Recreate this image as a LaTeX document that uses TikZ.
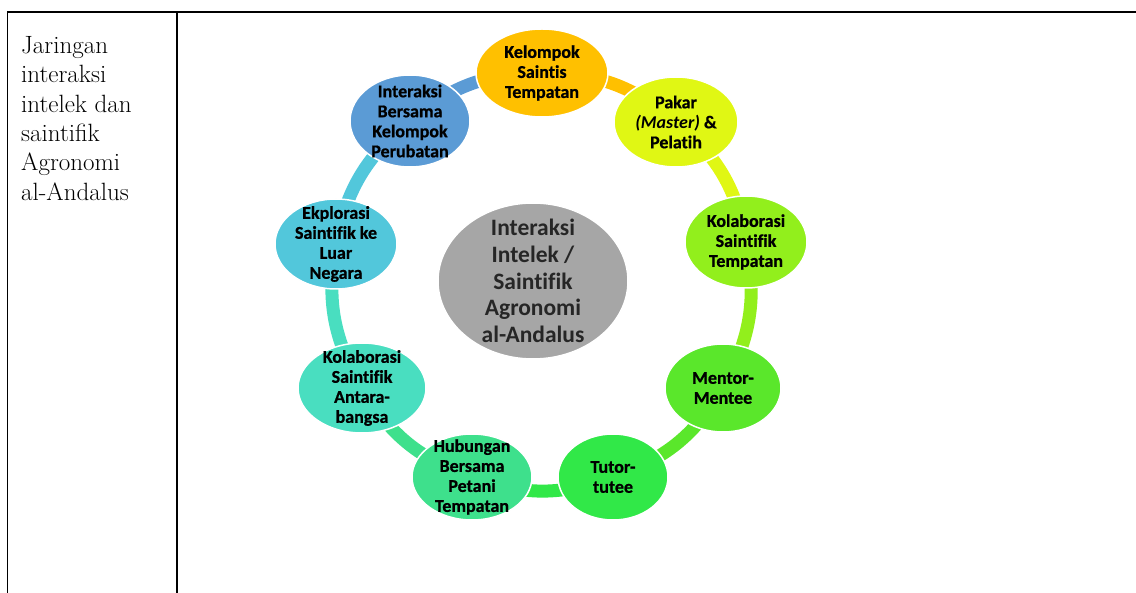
\documentclass[tikz,border=0pt]{standalone}
\usepackage{fontspec}
\newfontfamily\lblfont[RawFeature={-liga}, BoldFeatures={FakeBold=0.8}]{Carlito}
\newfontfamily\hubfont[RawFeature={-liga}]{Carlito}
\usetikzlibrary{shapes.geometric,backgrounds}
\definecolor{cInt}{HTML}{5B9BD5}
\definecolor{cKel}{HTML}{FFC000}
\definecolor{cPak}{HTML}{E0F714}
\definecolor{cKoT}{HTML}{92EF1C}
\definecolor{cMen}{HTML}{5AE72B}
\definecolor{cTut}{HTML}{31E848}
\definecolor{cHub}{HTML}{3EE08C}
\definecolor{cKoA}{HTML}{49DEC0}
\definecolor{cEks}{HTML}{52C7DB}
\definecolor{cHubc}{HTML}{A6A6A6}
\tikzset{
  bub/.style n args={3}{ellipse, draw=white, line width=1.5pt, fill=#1,
    minimum width=#2, minimum height=#3, inner sep=0pt},
  lbl/.style={font=\lblfont\bfseries\fontsize{18}{20}\selectfont,
    align=center, text=black, inner sep=0pt},
  hubtxt/.style={font=\hubfont\bfseries\fontsize{23.5}{26.7}\selectfont,
    align=center, text=black!85, inner sep=0pt},
  ring/.style={draw=#1, line width=13pt},
  rule/.style={draw=black, line width=1.8pt},
  desc/.style={font=\fontsize{25}{29.4}\selectfont, align=left, inner sep=0pt}
}
\begin{document}
\begin{tikzpicture}[x=1pt,y=-1pt]
\useasboundingbox (0,0) rectangle (1136,593);
% table rules
\coordinate (t0) at (7.5,593);
\coordinate (t1) at (7.5,12);
\coordinate (t2) at (1136,12);
\coordinate (m0) at (177,12);
\coordinate (m1) at (177,593);
\draw[rule] (t0) -- (t1) -- (t2);
\draw[rule] (m0) -- (m1);
% left cell text
\node[desc, anchor=north west] (label) at (21,36)
  {Jaringan\\interaksi\\intelek dan\\saintifik\\Agronomi\\al-Andalus};
% hub
\node[bub={cHubc}{190pt}{156pt}, label={[hubtxt]center:Interaksi\\Intelek /\\Saintifik\\Agronomi\\al-Andalus}] (hub) at (533,281) {};
% ring nodes
\node[bub={cKel}{132pt}{88pt}, label={[lbl]center:Kelompok\\Saintis\\Tempatan}] (kel) at (542,73) {};
\node[bub={cPak}{124pt}{90pt}, label={[lbl]center:Pakar\\{\itshape(Master)} \&\\Pelatih}] (pak) at (676,122) {};
\node[bub={cKoT}{122pt}{92pt}, label={[lbl]center:Kolaborasi\\Saintifik\\Tempatan}] (kot) at (746,242) {};
\node[bub={cMen}{116pt}{88pt}, label={[lbl]center:Mentor-\\Mentee}] (men) at (723,388) {};
\node[bub={cTut}{110pt}{86pt}, label={[lbl]center:Tutor-\\tutee}] (tut) at (613,477) {};
\node[bub={cHub}{120pt}{86pt}, label={[lbl]center:Hubungan\\Bersama\\Petani\\Tempatan}] (hub2) at (472,477) {};
\node[bub={cKoA}{128pt}{90pt}, label={[lbl]center:Kolaborasi\\Saintifik\\Antara-\\bangsa}] (koa) at (362,388) {};
\node[bub={cEks}{122pt}{90pt}, label={[lbl]center:Ekplorasi\\Saintifik ke\\Luar\\Negara}] (eks) at (336,244) {};
\node[bub={cInt}{120pt}{92pt}, label={[lbl]center:Interaksi\\Bersama\\Kelompok\\Perubatan}] (int) at (410,121) {};
% ring connectors
\begin{scope}[on background layer]
\draw[ring=cKel] (kel.center) to[bend left=20] (pak.center);
\draw[ring=cPak] (pak.center) to[bend left=20] (kot.center);
\draw[ring=cKoT] (kot.center) to[bend left=20] (men.center);
\draw[ring=cMen] (men.center) to[bend left=20] (tut.center);
\draw[ring=cTut] (tut.center) to[bend left=20] (hub2.center);
\draw[ring=cHub] (hub2.center) to[bend left=20] (koa.center);
\draw[ring=cKoA] (koa.center) to[bend left=20] (eks.center);
\draw[ring=cEks] (eks.center) to[bend left=20] (int.center);
\draw[ring=cInt] (int.center) to[bend left=20] (kel.center);
\end{scope}
\end{tikzpicture}
\end{document}
